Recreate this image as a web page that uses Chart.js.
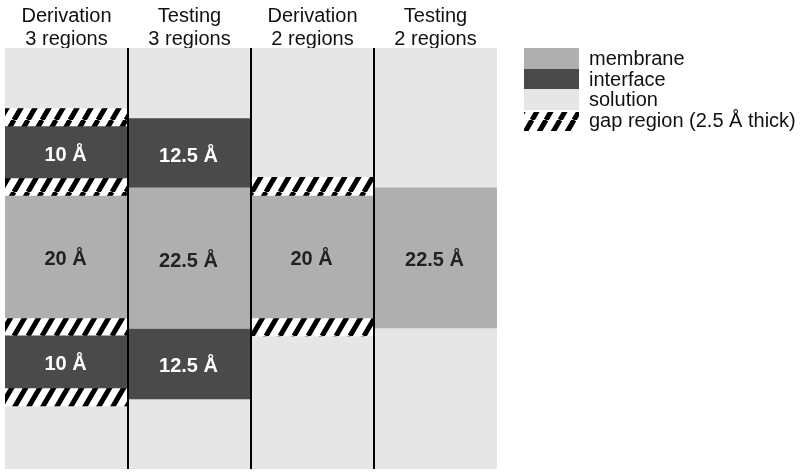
<!DOCTYPE html>
<html>
<head>
<meta charset="utf-8">
<script src="https://cdn.jsdelivr.net/npm/chart.js@4.4.1/dist/chart.umd.min.js"></script>
<style>
  body { margin: 0; background: #fff; }
  #wrap { width: 800px; height: 473px; }
</style>
</head>
<body>
<div id="wrap"><canvas id="regionsChart"></canvas></div>
<script>
// column headers
var columns = [["Derivation", "3 regions"], ["Testing", "3 regions"], ["Derivation", "2 regions"], ["Testing", "2 regions"]];

// region extents in Å (0 = membrane centre)
var solution = [[-34.2, 33.8], [-34.2, 33.8], [-34.2, 33.8], [-34.2, 33.8]];
var membrane = [[-9.8, 9.9], [-11.5, 11.2], [-9.8, 9.9], [-11.4, 11.2]];
var interfaceUpper = [[12.8, 21.1], [11.2, 22.4], null, null];
var interfaceLower = [[-21.1, -12.7], [-22.9, -11.5], null, null];
var gapOuterUpper = [[21.1, 24.0], null, null, null];
var gapInnerUpper = [[9.9, 12.8], null, [9.9, 12.9], null];
var gapInnerLower = [[-12.7, -9.8], null, [-12.7, -9.8], null];
var gapOuterLower = [[-24.0, -21.1], null, null, null];

// text written inside the regions
var membraneText = ["20 Å", "22.5 Å", "20 Å", "22.5 Å"];
var interfaceText = ["10 Å", "12.5 Å", null, null];

var legendNames = ["membrane", "interface", "solution", "gap region (2.5 Å thick)"];

var cMembrane = '#afafaf', cInterface = '#4a4a4a', cSolution = '#e6e6e6';
var FONT = '"Liberation Sans", Arial, sans-serif';

var canvas = document.getElementById('regionsChart');
var ctx = canvas.getContext('2d');

function makeHatch() {
  var w = 14, h = 24;
  var c = document.createElement('canvas');
  c.width = w; c.height = h;
  var x = c.getContext('2d');
  x.fillStyle = '#fff';
  x.fillRect(0, 0, w, h);
  x.strokeStyle = '#000';
  x.lineWidth = 5;
  for (var k = -1; k <= 1; k++) {
    x.beginPath();
    x.moveTo(k * w, h);
    x.lineTo(k * w + w, 0);
    x.stroke();
  }
  return ctx.createPattern(c, 'repeat');
}
var hatch = makeHatch();

function gapSet(d) {
  return { label: 'gap region', data: d, backgroundColor: hatch };
}

// white / dark text in the middle of the bars
var regionLabels = {
  id: 'regionLabels',
  afterDatasetsDraw: function (chart) {
    var c = chart.ctx;
    chart.data.datasets.forEach(function (ds, i) {
      if (!ds.texts) return;
      chart.getDatasetMeta(i).data.forEach(function (bar, j) {
        if (!ds.texts[j]) return;
        c.save();
        c.font = 'bold 20px ' + FONT;
        c.fillStyle = ds.textColor;
        c.textAlign = 'center';
        c.textBaseline = 'middle';
        c.fillText(ds.texts[j], bar.x - 1, (bar.y + bar.base) / 2 + 3);
        c.restore();
      });
    });
  }
};

// legend on the right, swatches stacked without gaps
var sideLegend = {
  id: 'sideLegend',
  afterDraw: function (chart) {
    var c = chart.ctx;
    var fills = [cMembrane, cInterface, cSolution, hatch];
    var x0 = 524, y0 = 48, bw = 55, bh = 20.7;
    c.save();
    legendNames.forEach(function (name, i) {
      var top = Math.round(y0 + i * bh), bot = Math.round(y0 + (i + 1) * bh);
      c.fillStyle = fills[i];
      if (i === 3) c.fillRect(x0, top + 2, bw, bot - top - 2);
      else c.fillRect(x0, top, bw, bot - top);
      c.fillStyle = '#111';
      c.font = '20px ' + FONT;
      c.textAlign = 'left';
      c.textBaseline = 'middle';
      c.fillText(name, x0 + bw + 10, (top + bot) / 2 + 1);
    });
    c.restore();
  }
};

var chart = new Chart(ctx, {
  type: 'bar',
  data: {
    labels: columns,
    datasets: [
      { label: 'membrane', data: membrane, backgroundColor: cMembrane, texts: membraneText, textColor: '#222' },
      { label: 'interface', data: interfaceUpper, backgroundColor: cInterface, texts: interfaceText, textColor: '#fff' },
      { label: 'interface', data: interfaceLower, backgroundColor: cInterface, texts: interfaceText, textColor: '#fff' },
      gapSet(gapOuterUpper),
      gapSet(gapInnerUpper),
      gapSet(gapInnerLower),
      gapSet(gapOuterLower),
      { label: 'solution', data: solution, backgroundColor: cSolution, order: 10 }
    ]
  },
  options: {
    responsive: true,
    maintainAspectRatio: false,
    animation: false,
    layout: { padding: { left: 5, right: 303, top: 0, bottom: 4 } },
    datasets: {
      bar: { grouped: false, barPercentage: 1, categoryPercentage: 1, borderWidth: 0 }
    },
    plugins: {
      legend: { display: false },
      tooltip: { enabled: false }
    },
    scales: {
      x: {
        position: 'top',
        offset: true,
        grid: {
          offset: true,
          z: 1,
          drawTicks: false,
          lineWidth: 2,
          color: function (c) { return (c.index > 0 && c.index < 4) ? '#000' : 'rgba(0,0,0,0)'; }
        },
        border: { display: false },
        ticks: {
          autoSkip: false,
          maxRotation: 0,
          padding: -3,
          color: '#111',
          font: { family: FONT, size: 20, lineHeight: 1.15 }
        },
        afterFit: function (s) { s.height = 48; }
      },
      y: { display: false, min: -34.2, max: 33.8 }
    }
  },
  plugins: [regionLabels, sideLegend]
});
</script>
</body>
</html>
